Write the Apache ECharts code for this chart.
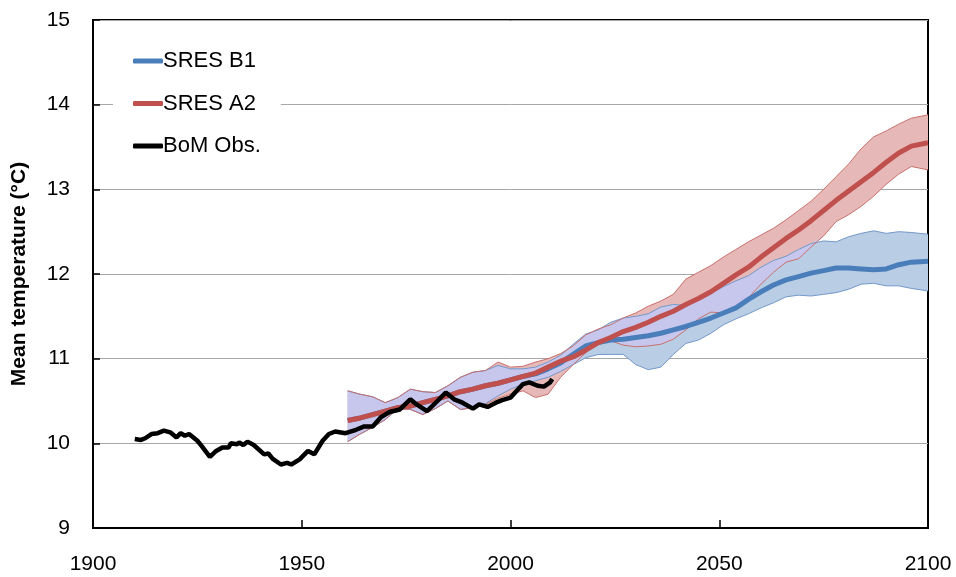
<!DOCTYPE html>
<html>
<head>
<meta charset="utf-8">
<title>Mean temperature projections</title>
<script src="https://cdn.jsdelivr.net/npm/echarts@6/dist/echarts.min.js"></script>
<style>
    html, body { margin: 0; padding: 0; background: #fff; }
    #chart { width: 956px; height: 577px; }
</style>
</head>
<body>
<div id="chart"></div>
<script>
// Observed record (BoM)
const obsYears = [1910, 1911.5, 1912.5, 1914, 1915.5, 1917, 1918.5, 1920, 1921, 1922, 1923, 1925, 1926, 1928, 1929.5,
    1931, 1932.5, 1933, 1934.5, 1935, 1936, 1937, 1938.5, 1941, 1942, 1943, 1945, 1946.5, 1947.5, 1949.5,
    1951.5, 1953, 1955, 1956.5, 1958, 1960.5, 1963, 1965, 1967, 1969, 1971, 1973.5, 1976, 1977.5, 1980,
    1982.5, 1984.5, 1986.5, 1988.5, 1991, 1992.5, 1994.5, 1996.5, 1998, 2000, 2001.5, 2003, 2004.5, 2006.5,
    2008, 2009.5, 2010];
const obsTemp = [10.05, 10.04, 10.06, 10.11, 10.12, 10.15, 10.13, 10.07, 10.12, 10.09, 10.11, 10.03, 9.97, 9.84, 9.91,
    9.95, 9.95, 10.00, 9.99, 10.01, 9.98, 10.02, 9.98, 9.87, 9.88, 9.82, 9.75, 9.77, 9.75, 9.81,
    9.91, 9.87, 10.03, 10.11, 10.14, 10.12, 10.16, 10.20, 10.20, 10.31, 10.37, 10.40, 10.52, 10.46, 10.38,
    10.50, 10.60, 10.52, 10.48, 10.41, 10.46, 10.43, 10.48, 10.51, 10.54, 10.62, 10.70, 10.72, 10.68,
    10.67, 10.72, 10.76];

// Model years shared by both scenarios
const modelYears = [1961, 1964, 1967, 1970, 1973, 1976, 1979, 1982, 1985, 1988, 1991, 1994, 1997, 2000, 2003, 2006,
    2009, 2012, 2015, 2018, 2021, 2024, 2027, 2030, 2033, 2036, 2039, 2042, 2045, 2048, 2051, 2054,
    2057, 2060, 2063, 2066, 2069, 2072, 2075, 2078, 2081, 2084, 2087, 2090, 2093, 2096, 2100];

// SRES A2
const a2Mean = [10.27, 10.30, 10.34, 10.38, 10.42, 10.44, 10.48, 10.52, 10.56, 10.61, 10.64, 10.68, 10.71, 10.75, 10.79, 10.83,
    10.90, 10.97, 11.02, 11.10, 11.19, 11.25, 11.32, 11.37, 11.43, 11.50, 11.56, 11.64, 11.71, 11.79, 11.89, 11.99,
    12.08, 12.20, 12.31, 12.42, 12.52, 12.63, 12.75, 12.87, 12.98, 13.09, 13.20, 13.32, 13.43, 13.51, 13.55];
const a2Upper = [10.62, 10.58, 10.55, 10.48, 10.54, 10.64, 10.61, 10.60, 10.68, 10.78, 10.84, 10.86, 10.96, 10.90, 10.91, 10.96,
    11.00, 11.06, 11.15, 11.28, 11.35, 11.40, 11.48, 11.54, 11.62, 11.68, 11.76, 11.94, 12.02, 12.10, 12.20, 12.29,
    12.38, 12.46, 12.54, 12.64, 12.75, 12.86, 13.00, 13.15, 13.30, 13.48, 13.62, 13.69, 13.77, 13.84, 13.88];
const a2Lower = [10.02, 10.11, 10.19, 10.28, 10.41, 10.40, 10.34, 10.41, 10.50, 10.40, 10.42, 10.46, 10.53, 10.58, 10.62, 10.54,
    10.58, 10.78, 10.93, 11.07, 11.20, 11.21, 11.16, 11.14, 11.15, 11.17, 11.23, 11.34, 11.47, 11.55, 11.54, 11.60,
    11.72, 11.88, 12.02, 12.14, 12.18, 12.32, 12.45, 12.62, 12.70, 12.80, 12.92, 13.06, 13.18, 13.27, 13.23];

// SRES B1
const b1Mean = [10.27, 10.30, 10.34, 10.38, 10.42, 10.44, 10.48, 10.52, 10.56, 10.61, 10.64, 10.68, 10.71, 10.75, 10.79, 10.82,
    10.88, 10.95, 11.05, 11.15, 11.19, 11.22, 11.23, 11.25, 11.27, 11.30, 11.34, 11.38, 11.43, 11.48, 11.54, 11.60,
    11.70, 11.79, 11.87, 11.93, 11.97, 12.01, 12.04, 12.07, 12.07, 12.06, 12.05, 12.06, 12.11, 12.14, 12.15];
const b1Upper = [10.62, 10.58, 10.55, 10.48, 10.54, 10.64, 10.61, 10.60, 10.68, 10.78, 10.84, 10.86, 10.92, 10.88, 10.88, 10.90,
    10.96, 11.04, 11.17, 11.29, 11.34, 11.43, 11.48, 11.50, 11.53, 11.61, 11.64, 11.63, 11.72, 11.77, 11.85, 11.92,
    11.98, 12.08, 12.16, 12.21, 12.29, 12.36, 12.39, 12.38, 12.44, 12.48, 12.51, 12.48, 12.50, 12.49, 12.47];
const b1Lower = [10.02, 10.11, 10.19, 10.28, 10.41, 10.40, 10.34, 10.41, 10.50, 10.40, 10.42, 10.47, 10.56, 10.64, 10.70, 10.74,
    10.78, 10.85, 10.93, 11.01, 11.05, 11.05, 11.05, 10.93, 10.87, 10.90, 11.05, 11.18, 11.22, 11.30, 11.40, 11.47,
    11.53, 11.60, 11.66, 11.73, 11.75, 11.74, 11.76, 11.78, 11.82, 11.88, 11.89, 11.86, 11.86, 11.83, 11.80];

const FONT = '"Liberation Sans", Arial, sans-serif';
const BLUE = '#4a7ebb';
const RED = '#c0504d';

// where both ranges cover the same temperatures
const overlapLower = modelYears.map((yr, i) => Math.max(a2Lower[i], b1Lower[i]));
const overlapUpper = modelYears.map((yr, i) => Math.max(overlapLower[i], Math.min(a2Upper[i], b1Upper[i])));

function pairs(xs, ys) {
    return xs.map((x, i) => [x, ys[i]]);
}

function bandSeries(name, lower, upper, fill) {
    return {
        name: name,
        type: 'custom',
        silent: true,
        data: modelYears.map((yr, i) => [yr, lower[i], upper[i]]),
        encode: { x: 0, y: [1, 2] },
        renderItem: (params, api) => {
            if (params.dataIndex !== 0) return;
            const top = modelYears.map((yr, i) => api.coord([yr, upper[i]]));
            const bottom = modelYears.map((yr, i) => api.coord([yr, lower[i]])).reverse();
            return {
                type: 'polygon',
                shape: { points: top.concat(bottom) },
                style: { fill: fill }
            };
        }
    };
}

function edgeSeries(name, values, color) {
    return {
        name: name,
        type: 'line',
        data: pairs(modelYears, values),
        symbol: 'none',
        silent: true,
        lineStyle: { color: color, width: 1 }
    };
}

const chart = echarts.init(document.getElementById('chart'));

chart.setOption({
    animation: false,
    backgroundColor: '#fff',
    grid: {
        left: 93, right: 28, top: 20, bottom: 49,
        show: true,
        borderColor: '#000',
        borderWidth: 2
    },
    legend: {
        data: ['SRES B1', 'SRES A2', 'BoM Obs.'],
        orient: 'vertical',
        left: 113,
        top: 40,
        padding: [10, 20, 10, 20],
        backgroundColor: '#fff',
        icon: 'roundRect',
        itemWidth: 30,
        itemHeight: 5,
        itemGap: 20.5,
        textStyle: { fontFamily: FONT, fontSize: 22, color: '#000', padding: [0, 0, 0, -5] }
    },
    xAxis: {
        type: 'value',
        min: 1900,
        max: 2100,
        interval: 50,
        axisLine: { lineStyle: { color: '#000', width: 2 } },
        axisTick: { inside: true, length: 8, lineStyle: { color: '#000', width: 1.5 } },
        axisLabel: { fontFamily: FONT, fontSize: 21, color: '#000', margin: 26, formatter: v => String(v) },
        splitLine: { show: false }
    },
    yAxis: {
        type: 'value',
        min: 9,
        max: 15,
        interval: 1,
        name: 'Mean temperature (°C)',
        nameLocation: 'middle',
        nameGap: 63,
        nameTextStyle: { fontFamily: FONT, fontSize: 21, fontWeight: 'bold', color: '#000' },
        axisLine: { lineStyle: { color: '#000', width: 2 } },
        axisTick: { inside: true, length: 7, lineStyle: { color: '#000', width: 1.5 } },
        axisLabel: { fontFamily: FONT, fontSize: 21, color: '#000', margin: 23 },
        splitLine: { lineStyle: { color: '#a6a6a6', width: 1 } }
    },
    series: [
        bandSeries('B1 range', b1Lower, b1Upper, '#b9cde5'),
        bandSeries('A2 range', a2Lower, a2Upper, '#e6b9b8'),
        bandSeries('Overlap', overlapLower, overlapUpper, '#c7c7ee'),
        edgeSeries('B1 lower', b1Lower, '#7398c9'),
        edgeSeries('B1 upper', b1Upper, '#7398c9'),
        edgeSeries('A2 lower', a2Lower, '#c9706d'),
        edgeSeries('A2 upper', a2Upper, '#c9706d'),
        {
            name: 'SRES B1',
            type: 'line',
            data: pairs(modelYears, b1Mean),
            symbol: 'none',
            itemStyle: { color: BLUE },
            lineStyle: { color: BLUE, width: 5 }
        },
        {
            name: 'SRES A2',
            type: 'line',
            data: pairs(modelYears, a2Mean),
            symbol: 'none',
            itemStyle: { color: RED },
            lineStyle: { color: RED, width: 5 }
        },
        {
            name: 'BoM Obs.',
            type: 'line',
            data: pairs(obsYears, obsTemp),
            symbol: 'none',
            itemStyle: { color: '#000' },
            lineStyle: { color: '#000', width: 4.5 }
        }
    ]
});
</script>
</body>
</html>
